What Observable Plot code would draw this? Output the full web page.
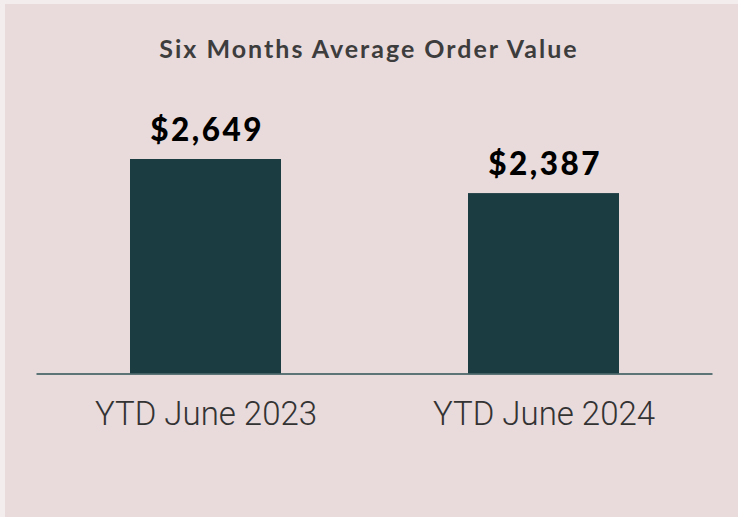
<!DOCTYPE html>
<html>
<head>
<meta charset="utf-8">
<script src="https://cdn.jsdelivr.net/npm/d3@7"></script>
<script src="https://cdn.jsdelivr.net/npm/@observablehq/plot@0.6"></script>
<style>
  html, body { margin: 0; padding: 0; }
  body { width: 738px; height: 517px; background: #f3eded; position: relative; overflow: hidden; }
  #panel { position: absolute; left: 5px; top: 4px; right: 0; bottom: 0; background: #e9dadc; }
  #title { position: absolute; left: 0; top: 0; width: 738px; text-align: center;
           font-family: Lato, sans-serif; font-weight: 700; font-size: 25px; letter-spacing: 2px;
           color: #3d3d3d; line-height: 1; padding-top: 36px; }
  #chart { position: absolute; left: 0; top: 80px; }
</style>
</head>
<body>
<div id="panel"></div>
<div id="title">Six Months Average Order Value</div>
<div id="chart"></div>
<script>
const categories = ["YTD June 2023", "YTD June 2024"];
const values = [2649, 2387];
const valueLabels = ["$2,649", "$2,387"];
const yBase = 1000;

const data = categories.map((c, i) => ({category: c, value: values[i], label: valueLabels[i]}));

const chart = Plot.plot({
  width: 738,
  height: 437,
  marginTop: 79,
  marginBottom: 143.5,
  marginLeft: 36.5,
  marginRight: 25.5,
  style: {background: "transparent", overflow: "visible"},
  x: {domain: categories, paddingInner: 0.553, paddingOuter: 0.2765, label: null},
  y: {domain: [yBase, d3.max(values)], axis: null},
  marks: [
    Plot.barY(data, {x: "category", y1: yBase, y2: "value", fill: "#1b3d42"}),
    Plot.ruleY([yBase], {stroke: "#2e5256", strokeWidth: 1.6}),
    Plot.text(data, {x: "category", y: "value", text: "label", lineAnchor: "bottom", dy: -19, dx: 1.2,
      fontFamily: "Lato, sans-serif", fontWeight: 900, fontSize: 31.5, fill: "#000",
      style: "letter-spacing: 2.5px"}),
    Plot.axisX({tickSize: 0, tickPadding: 28, label: null,
      fontFamily: "Roboto, 'Liberation Sans', sans-serif", fontSize: 33, fill: "#333333",
      fontWeight: 300})
  ]
});
chart.querySelectorAll("text").forEach(t => {
  if (/^\$/.test(t.textContent)) t.style.letterSpacing = "2.5px";
});
document.getElementById("chart").appendChild(chart);
</script>
</body>
</html>
